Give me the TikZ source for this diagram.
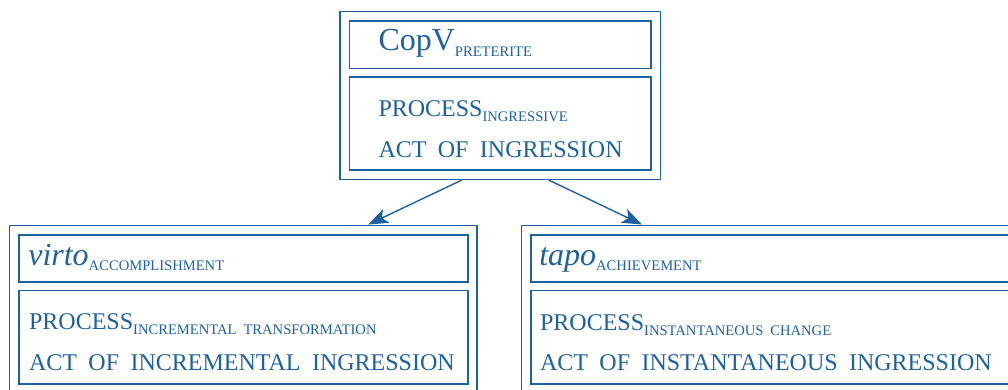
\documentclass[tikz,border=0pt]{standalone}
\usepackage{fontspec}
\setmainfont{Liberation Serif}[WordSpace=1.9]
\usetikzlibrary{arrows.meta,calc,fit,positioning}

\definecolor{ink}{RGB}{29,97,163}
\newcommand\subcap[1]{\raisebox{-2.7pt}{\upshape\fontsize{7.3}{8}\selectfont #1}}

\begin{document}
\begin{tikzpicture}[x=0.5pt,y=-0.5pt,line width=0.8pt,color=ink,
  head/.style={draw,inner sep=0pt,minimum height=23.7pt},
  body/.style={draw,inner sep=0pt,minimum height=46.6pt},
  frame/.style={draw,inner sep=4.3pt},
  word/.style={anchor=base west,inner sep=0pt,font=\fontsize{12}{14}\selectfont},
  lemma/.style={anchor=base west,inner sep=0pt,font=\fontsize{16}{18}\selectfont},
  link/.style={-{Stealth[length=10pt,width=7.5pt,inset=2.5pt]},line width=0.7pt}]

  \clip (0,0) rectangle (1008,390);

  % top: the copular verb
  \node[head,minimum width=150.85pt] (copHead) at (500.15,44.65) {};
  \node[body,minimum width=150.85pt] (copBody) [below=3.4pt of copHead] {};
  \node[lemma] (copLemma) at (377.7,50.7) {CopV\subcap{PRETERITE}};
  \node[word] (copProc) at (377.7,116.3) {PROCESS\subcap{INGRESSIVE}};
  \node[word] (copAct) at (377.7,157.3) {ACT OF INGRESSION};
  \node[frame,fit=(copHead)(copBody)] (cop) {};

  % left: virto
  \node[head,minimum width=224.5pt] (virtoHead) at (243.2,258.45) {};
  \node[body,minimum width=224.5pt] (virtoBody) [below=3.4pt of virtoHead] {};
  \node[lemma] (virtoLemma) at (27.5,265) {\itshape virto\subcap{ACCOMPLISHMENT}};
  \node[word] (virtoProc) at (28.3,329.3) {PROCESS\subcap{INCREMENTAL TRANSFORMATION}};
  \node[word] (virtoAct) at (28.3,370.7) {ACT OF INCREMENTAL INGRESSION};
  \node[frame,fit=(virtoHead)(virtoBody)] (virto) {};

  % right: tapo
  \node[head,minimum width=239.5pt] (tapoHead) at (770.5,258.45) {};
  \node[body,minimum width=239.5pt] (tapoBody) [below=3.4pt of tapoHead] {};
  \node[lemma] (tapoLemma) at (538.5,265) {\itshape tapo\subcap{ACHIEVEMENT}};
  \node[word] (tapoProc) at (539.3,330) {PROCESS\subcap{INSTANTANEOUS CHANGE}};
  \node[word] (tapoAct) at (539.3,370.7) {ACT OF INSTANTANEOUS INGRESSION};
  \node[frame,fit=(tapoHead)(tapoBody)] (tapo) {};

  \draw[link] ($(cop.south)+(-38.5,0)$) -- ($(virto.north)+(125,0)$);
  \draw[link] ($(cop.south)+(48.8,0)$) -- ($(tapo.north)+(-128.5,0)$);

\end{tikzpicture}
\end{document}
